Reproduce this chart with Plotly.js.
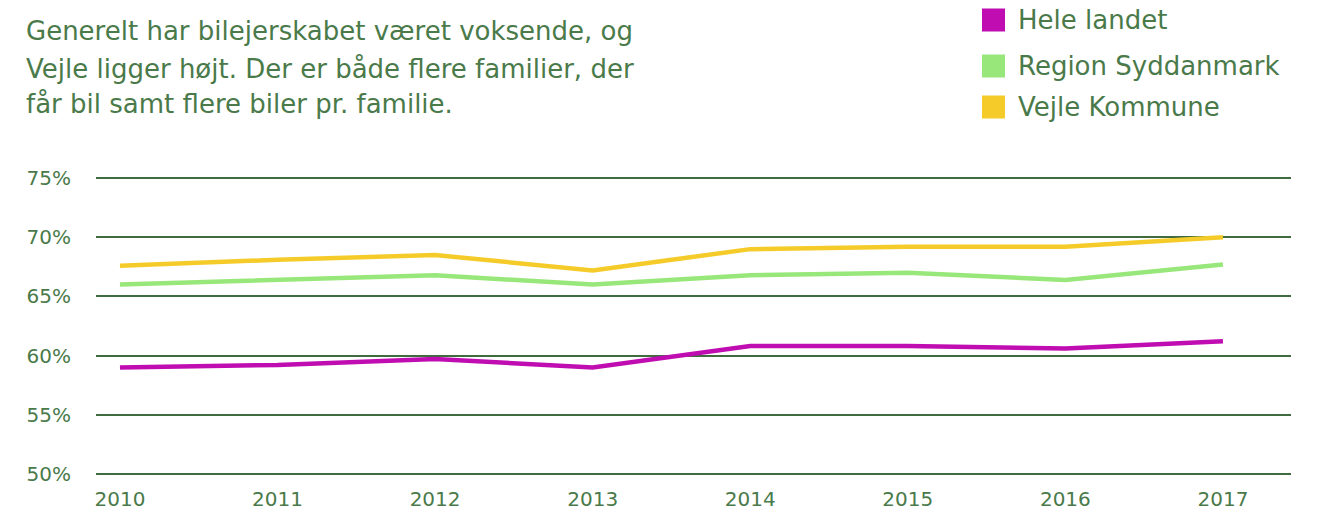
<!DOCTYPE html>
<html>
<head>
<meta charset="utf-8">
<script src="https://cdn.plot.ly/plotly-3.0.1.min.js"></script>
<style>
  html, body { margin: 0; padding: 0; background: #ffffff; }
  #chart { width: 1322px; height: 515px; }
</style>
</head>
<body>
<div id="chart"></div>
<script>
// ---- Data ----
const years = [2010, 2011, 2012, 2013, 2014, 2015, 2016, 2017];
const heleLandet = [59.0, 59.2, 59.7, 59.0, 60.8, 60.8, 60.6, 61.2];
const regionSyddanmark = [66.0, 66.4, 66.8, 66.0, 66.8, 67.0, 66.4, 67.7];
const vejleKommune = [67.6, 68.1, 68.5, 67.2, 69.0, 69.2, 69.2, 70.0];
const seriesNames = ["Hele landet", "Region Syddanmark", "Vejle Kommune"];
const yTickValues = [50, 55, 60, 65, 70, 75];
const yTickLabels = ["50%", "55%", "60%", "65%", "70%", "75%"];
const titleLines = [
  "Generelt har bilejerskabet været voksende, og",
  "Vejle ligger højt. Der er både flere familier, der",
  "får bil samt flere biler pr. familie."
];

// ---- Style ----
const colors = ["#c00db1", "#98e77a", "#f5cb2a"];
const textColor = "#4a7a4a";
const gridColor = "#3f6b3e";
const fontFamily = "'DejaVu Sans', sans-serif";

const W = 1322, H = 515;
const margin = {l: 96, r: 31, t: 177, b: 40};
const plotW = W - margin.l - margin.r;
const plotH = H - margin.t - margin.b;
const px2x = px => (px - margin.l) / plotW;
const py2y = py => (H - margin.b - py) / plotH;

const allSeries = [heleLandet, regionSyddanmark, vejleKommune];
const traces = allSeries.map((vals, i) => ({
  x: years,
  y: vals,
  type: "scatter",
  mode: "lines",
  name: seriesNames[i],
  line: {color: colors[i], width: 4.5},
  hoverinfo: "x+y+name",
  showlegend: false
}));

const annotations = [];
const shapes = [];

// Title lines
const titleY = [31, 69, 104];
titleLines.forEach((t, i) => {
  annotations.push({
    xref: "paper", yref: "paper",
    x: px2x(24), y: py2y(titleY[i]),
    xanchor: "left", yanchor: "middle",
    text: t, showarrow: false,
    font: {family: fontFamily, size: 26, color: textColor}
  });
});

// Legend
const legY = [20, 66, 107];
seriesNames.forEach((n, i) => {
  shapes.push({
    type: "rect", xref: "paper", yref: "paper",
    x0: px2x(982), x1: px2x(1005),
    y0: py2y(legY[i] - 11.5), y1: py2y(legY[i] + 11.5),
    fillcolor: colors[i], line: {width: 0}
  });
  annotations.push({
    xref: "paper", yref: "paper",
    x: px2x(1016), y: py2y(legY[i]),
    xanchor: "left", yanchor: "middle",
    text: n, showarrow: false,
    font: {family: fontFamily, size: 26, color: textColor}
  });
});

const layout = {
  width: W, height: H,
  margin: margin,
  paper_bgcolor: "#ffffff",
  plot_bgcolor: "#ffffff",
  showlegend: false,
  font: {family: fontFamily, color: textColor},
  xaxis: {
    range: [2009.848, 2017.432],
    tickvals: years,
    ticktext: years.map(String),
    showgrid: false, zeroline: false, showline: false,
    ticks: "outside", ticklen: 6, tickcolor: "rgba(0,0,0,0)",
    tickfont: {family: fontFamily, size: 20, color: textColor},
    fixedrange: true
  },
  yaxis: {
    range: [49.9, 75.1],
    tickvals: yTickValues,
    ticktext: yTickLabels,
    showgrid: true, gridcolor: gridColor, gridwidth: 2,
    zeroline: false, showline: false,
    ticks: "outside", ticklen: 20, tickcolor: "rgba(0,0,0,0)",
    tickfont: {family: fontFamily, size: 20, color: textColor},
    fixedrange: true
  },
  annotations: annotations,
  shapes: shapes
};

Plotly.newPlot("chart", traces, layout, {displayModeBar: false});
</script>
</body>
</html>
